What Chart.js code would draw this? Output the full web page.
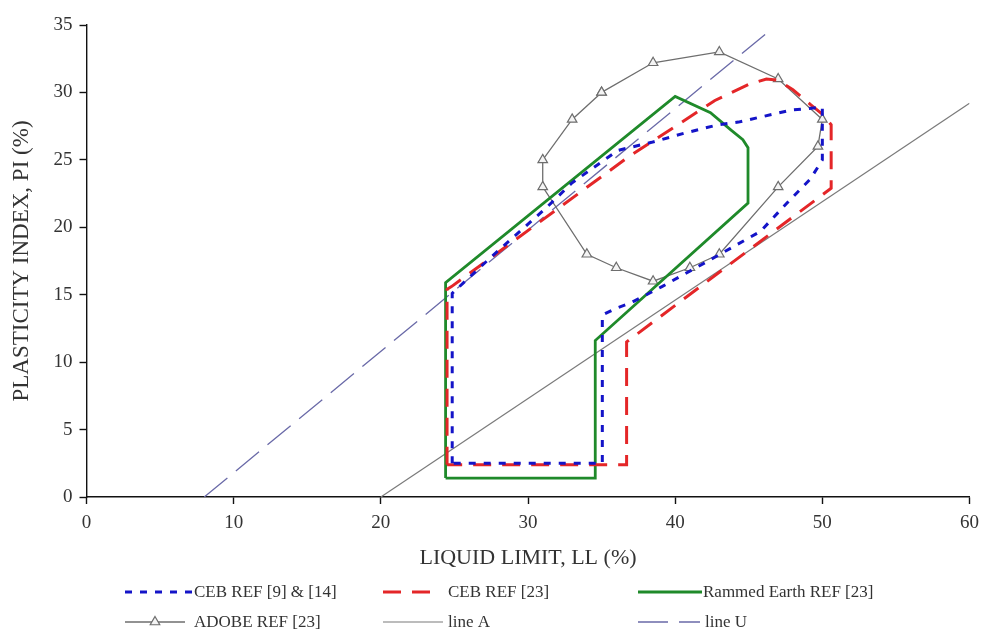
<!DOCTYPE html>
<html>
<head>
<meta charset="utf-8">
<script src="https://cdn.jsdelivr.net/npm/chart.js@4.4.1/dist/chart.umd.min.js"></script>
<style>
  body { margin: 0; background: #fff; }
  #wrap { width: 987px; height: 630px; position: relative; }
</style>
</head>
<body>
<div id="wrap"><canvas id="plasticityChart"></canvas></div>
<script>
// LL / PI pairs for each zone (LL %, PI %)
const ceb914 = [
  [24.85, 2.5], [24.85, 15.1], [27.5, 17.8], [31.2, 21.4], [33, 23.3], [36.1, 25.7],
  [38.4, 26.3], [40.7, 27], [42.9, 27.6], [44.3, 27.8], [47.9, 28.7], [50, 28.9],
  [50, 25], [49.2, 23.6], [47.6, 21.8], [45.8, 19.7], [42.4, 17.6],
  [39.1, 15.6], [37, 14.4], [36, 14], [35.05, 13.5], [35.05, 2.5], [24.85, 2.5]
];
const ceb23 = [
  [24.5, 2.4], [24.5, 15.4], [24.8, 15.6], [36.8, 25.2], [42.7, 29.4], [45, 30.6],
  [46.2, 31], [47, 30.9], [48, 30.2], [49.2, 29.1], [50.1, 28.3], [50.6, 27.6],
  [50.6, 22.9], [36.7, 11.5], [36.7, 2.4], [24.5, 2.4]
];
const rammedEarth = [
  [24.4, 1.4], [24.4, 15.9], [40, 29.7], [42.4, 28.5], [43.8, 27.2], [44.6, 26.5],
  [44.95, 25.9], [44.95, 21.8], [34.57, 11.6], [34.57, 1.4], [24.4, 1.4]
];
const adobe = [
  [35, 30], [38.5, 32.2], [43, 33], [47, 31], [50, 28], [49.7, 26], [47, 23],
  [43, 18], [41, 17], [38.5, 16], [36, 17], [34, 18], [31, 23], [31, 25], [33, 28], [35, 30]
];
const lineA = [[20, 0], [60, 29.2]];
const lineU = [[8, 0], [46.5, 34.65]];

const seriesLabels = [
  "CEB REF [9] & [14]", "CEB REF [23]", "Rammed Earth REF [23]",
  "ADOBE REF [23]", "line A", "line U"
];

const toXY = (pts) => pts.map((p) => ({ x: p[0], y: p[1] }));

const serif = "'Liberation Serif', 'Times New Roman', serif";

// legend laid out in three columns under the axis title
const legendSlots = [
  { x: 125, w: 68, tx: 194, y: 592 },
  { x: 383, w: 57, tx: 448, y: 592 },
  { x: 638, w: 64, tx: 703, y: 592 },
  { x: 125, w: 60, tx: 194, y: 622 },
  { x: 383, w: 60, tx: 448, y: 622 },
  { x: 638, w: 62, tx: 705, y: 622 }
];

const columnLegend = {
  id: "columnLegend",
  afterDraw(chart) {
    const ctx = chart.ctx;
    chart.data.datasets.forEach((ds, i) => {
      const s = legendSlots[i];
      ctx.save();
      ctx.strokeStyle = ds.borderColor;
      ctx.lineWidth = ds.borderWidth;
      ctx.setLineDash(ds.borderDash || []);
      ctx.beginPath();
      ctx.moveTo(s.x, s.y);
      ctx.lineTo(s.x + s.w, s.y);
      ctx.stroke();
      if (ds.pointRadius > 0) {
        ctx.setLineDash([]);
        ctx.fillStyle = ds.pointBackgroundColor;
        ctx.lineWidth = ds.pointBorderWidth;
        Chart.helpers.drawPoint(ctx, {
          pointStyle: ds.pointStyle, radius: ds.pointRadius, borderWidth: ds.pointBorderWidth, rotation: 0
        }, s.x + s.w / 2, s.y);
      }
      ctx.fillStyle = "#333";
      ctx.font = "17px " + serif;
      ctx.textBaseline = "middle";
      ctx.textAlign = "left";
      ctx.fillText(ds.label, s.tx, s.y + 1);
      ctx.restore();
    });
  }
};

const lineSet = (label, pts, color, width, dash) => ({
  label: label,
  data: toXY(pts),
  showLine: true,
  borderColor: color,
  borderWidth: width,
  borderDash: dash,
  pointRadius: 0,
  pointHoverRadius: 0,
  fill: false,
  tension: 0
});

const adobeSet = lineSet(seriesLabels[3], adobe, "#6e6e6e", 1.3, []);
adobeSet.pointRadius = 5.5;
adobeSet.pointStyle = "triangle";
adobeSet.pointBackgroundColor = "#f4f4f4";
adobeSet.pointBorderColor = "#6e6e6e";
adobeSet.pointBorderWidth = 1.2;

const ctx = document.getElementById("plasticityChart");

new Chart(ctx, {
  type: "scatter",
  data: {
    datasets: [
      lineSet(seriesLabels[0], ceb914, "#1414c8", 3, [7, 8]),
      lineSet(seriesLabels[1], ceb23, "#e42628", 3, [18, 11]),
      lineSet(seriesLabels[2], rammedEarth, "#1f8a2a", 2.8, []),
      adobeSet,
      lineSet(seriesLabels[4], lineA, "#7a7a7a", 1.2, []),
      lineSet(seriesLabels[5], lineU, "#6a6aa8", 1.3, [30, 11])
    ]
  },
  options: {
    responsive: true,
    maintainAspectRatio: false,
    animation: false,
    layout: { padding: { top: 25, right: 12, bottom: 58, left: 0 } },
    plugins: {
      legend: { display: false },
      tooltip: { enabled: false }
    },
    scales: {
      x: {
        type: "linear",
        min: 0,
        max: 60,
        afterFit: (scale) => { scale.height = 75; },
        border: { color: "#111", width: 1.4 },
        grid: { drawOnChartArea: false, drawTicks: true, tickLength: 7, tickColor: "#111", tickWidth: 1.4 },
        ticks: { stepSize: 10, padding: 8, color: "#333", font: { family: serif, size: 19 } },
        title: {
          display: true,
          text: "LIQUID LIMIT, LL (%)",
          color: "#333",
          font: { family: serif, size: 22 },
          padding: { top: 0, bottom: 1 }
        }
      },
      y: {
        type: "linear",
        min: 0,
        max: 35,
        afterFit: (scale) => { scale.width = 86.5; },
        border: { color: "#111", width: 1.4 },
        grid: { drawOnChartArea: false, drawTicks: true, tickLength: 7, tickColor: "#111", tickWidth: 1.4 },
        ticks: { stepSize: 5, padding: 7, color: "#333", font: { family: serif, size: 19 } },
        title: {
          display: true,
          text: "PLASTICITY INDEX, PI (%)",
          color: "#333",
          font: { family: serif, size: 23 },
          padding: { top: 8, bottom: 0 }
        }
      }
    }
  },
  plugins: [columnLegend]
});
</script>
</body>
</html>
